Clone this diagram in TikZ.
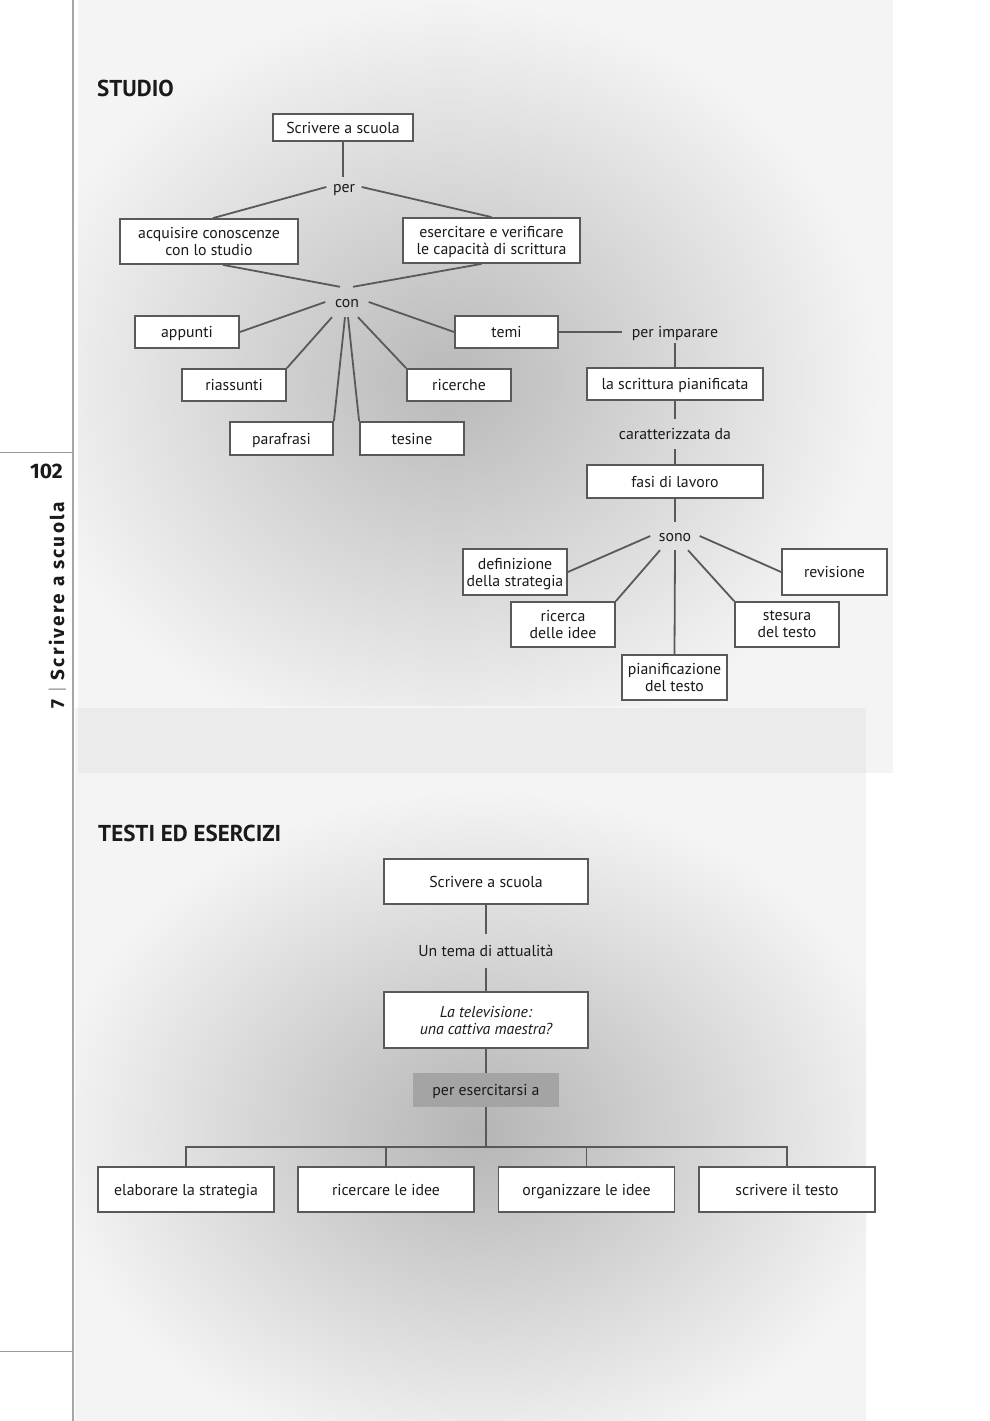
\documentclass[tikz,border=0pt]{standalone}
\usepackage{fontspec}
\setmainfont{PT Sans}
\newfontfamily\marginfont{Fira Sans}
\newfontfamily\sidefont[LetterSpace=12]{Fira Sans}
\definecolor{linec}{HTML}{595959}
\definecolor{txtc}{HTML}{1A1A1A}
\definecolor{panelc}{HTML}{F4F4F4}
\definecolor{bandc}{HTML}{EBEBEB}
\definecolor{patchc}{HTML}{A4A4A4}
\newcommand\txtsize{\fontsize{15.8}{17}\selectfont}
\tikzset{
  box/.style={draw=linec, line width=1.8pt, fill=white, inner sep=0pt, align=center, font=\txtsize, text=txtc,
    execute at begin node=\rule{0pt}{11pt}, text depth=0pt},
  lab/.style={inner sep=0pt, align=center, font=\txtsize, text=txtc,
    execute at begin node=\rule{0pt}{11pt}, text depth=0pt},
  conn/.style={draw=linec, line width=1.8pt},
  ttl/.style={anchor=base west, inner sep=0pt, font=\fontsize{23}{26}\selectfont\bfseries, text=txtc},
}
\begin{document}
\begin{tikzpicture}[x=1pt, y=-1pt]
\useasboundingbox (0,0) rectangle (990,1421);
\fill[white] (0,0) rectangle (990,1421);
% panels
\fill[panelc] (78,0) rectangle (893,773);
\fill[panelc] (75,708) rectangle (866,1421);
\fill[bandc] (78,708) rectangle (866,773);
\begin{scope}
  \clip (78,0) rectangle (893,705);
  \shade[inner color=gray!55, outer color=panelc] (450,380) ellipse [x radius=430, y radius=380];
\end{scope}
\begin{scope}
  \clip (75,776) rectangle (866,1421);
  \shade[inner color=gray!58, outer color=panelc] (480,1130) ellipse [x radius=430, y radius=340];
\end{scope}
% margin
\draw[gray!70, line width=1.2pt] (73,0) -- (73,1421);
\draw[gray!80, line width=1pt] (0,452) -- (73,452);
\draw[gray!80, line width=1pt] (0,1351) -- (73,1351);
\node[anchor=base east, inner sep=0pt, font=\marginfont\fontsize{21}{24}\selectfont\bfseries, text=txtc] (pnum) at (63,478) {102};
\node[rotate=90, anchor=base west, inner sep=0pt, font=\fontsize{19}{20}\selectfont\bfseries, text=txtc] (side) at (64,709)
  {\sidefont\bfseries 7\hspace{6pt}{\color{gray!70}\mdseries|}\hspace{6pt}Scrivere a scuola};
% titles
\node[ttl] (t1) at (97,96) {STUDIO};
\node[ttl] (t2) at (98,841) {TESTI ED ESERCIZI};
% ---------- STUDIO ----------
\node[box, minimum width=140, minimum height=27] (top) at (343,127.5) {Scrivere a scuola};
\node[lab, minimum width=35, minimum height=20] (per) at (344,187) {per};
\node[box, minimum width=178, minimum height=45] (acq) at (209,241.5) {acquisire conoscenze\\con lo studio};
\node[box, minimum width=177, minimum height=45] (ese) at (491.5,240.5) {esercitare e verificare\\le capacità di scrittura};
\node[lab, minimum width=43, minimum height=30] (con) at (347,302) {con};
\node[box, minimum width=104, minimum height=32] (app) at (187,332) {appunti};
\node[box, minimum width=104, minimum height=32] (ria) at (234,385) {riassunti};
\node[box, minimum width=103, minimum height=33] (par) at (281.5,438.5) {parafrasi};
\node[box, minimum width=104, minimum height=33] (tes) at (412,438.5) {tesine};
\node[box, minimum width=104, minimum height=32] (ric) at (459,385) {ricerche};
\node[box, minimum width=103, minimum height=32] (temi) at (506.5,332) {temi};
\node[lab, minimum width=106, minimum height=22] (perimp) at (675,332) {per imparare};
\node[box, minimum width=176, minimum height=32] (scr) at (675,384) {la scrittura pianificata};
\node[lab, minimum width=120, minimum height=30] (car) at (675,434) {caratterizzata da};
\node[box, minimum width=176, minimum height=33] (fasi) at (675,481.5) {fasi di lavoro};
\node[lab, minimum width=49, minimum height=28] (sono) at (675,536) {sono};
\node[box, minimum width=104, minimum height=46] (def) at (515,572) {definizione\\della strategia};
\node[box, minimum width=104, minimum height=45] (rca) at (563,624.5) {ricerca\\delle idee};
\node[box, minimum width=105, minimum height=45] (pian) at (674.5,677.5) {pianificazione\\del testo};
\node[box, minimum width=104, minimum height=45] (ste) at (787,624.5) {stesura\\del testo};
\node[box, minimum width=105, minimum height=46] (rev) at (834.5,572) {revisione};
% connectors
\draw[conn] (top.south) -- (top.south |- per.north);
\draw[conn] (per.west) -- ([xshift=4pt]acq.north);
\draw[conn] (per.east) -- (ese.north);
\draw[conn] ([xshift=14pt]acq.south) -- ([xshift=-7pt]con.north);
\draw[conn] ([xshift=-10pt]ese.south) -- ([xshift=6pt]con.north);
\draw[conn] (app.east) -- (con.west);
\draw[conn] (ria.north east) -- ([xshift=-15pt]con.south);
\draw[conn] (par.north east) -- ([xshift=-2pt]con.south);
\draw[conn] (tes.north west) -- ([xshift=1pt]con.south);
\draw[conn] (ric.north west) -- ([xshift=11pt]con.south);
\draw[conn] (temi.west) -- (con.east);
\draw[conn] (temi.east) -- (perimp.west);
\draw[conn] (perimp.south) -- (scr.north);
\draw[conn] (scr.south) -- (car.north);
\draw[conn] (car.south) -- (fasi.north);
\draw[conn] (fasi.south) -- (sono.north);
\draw[conn] (sono.west) -- (def.east);
\draw[conn] (sono.east) -- (rev.west);
\draw[conn] ([xshift=-15pt]sono.south) -- (rca.north east);
\draw[conn] (sono.south) -- (pian.north);
\draw[conn] ([xshift=13pt]sono.south) -- (ste.north west);
% ---------- TESTI ED ESERCIZI ----------
\node[box, minimum width=204, minimum height=45] (top2) at (486,881.5) {Scrivere a scuola};
\node[lab, minimum width=150, minimum height=33] (tema) at (486,951) {Un tema di attualità};
\node[box, minimum width=204, minimum height=56] (tv) at (486,1020) {\itshape La televisione:\\\itshape una cattiva maestra?};
\node[lab, fill=patchc, minimum width=146, minimum height=34] (esl) at (486,1090) {per esercitarsi a};
\coordinate (bus) at (486,1147);
\node[box, minimum width=176, minimum height=45] (b1) at (186,1189.5) {elaborare la strategia};
\node[box, minimum width=176, minimum height=45] (b2) at (386,1189.5) {ricercare le idee};
\node[box, minimum width=176, minimum height=45] (b3) at (586.5,1189.5) {organizzare le idee};
\node[box, minimum width=176, minimum height=45] (b4) at (787,1189.5) {scrivere il testo};
\draw[conn] (top2.south) -- (tema.north);
\draw[conn] (tema.south) -- (tv.north);
\draw[conn] (tv.south) -- (esl.north);
\draw[conn] (esl.south) -- (bus);
\draw[conn] (b1.north) |- (bus) -| (b4.north);
\draw[conn] (b2.north) -- (b2.north |- bus);
\draw[conn] (b3.north) -- (b3.north |- bus);
\end{tikzpicture}
\end{document}
